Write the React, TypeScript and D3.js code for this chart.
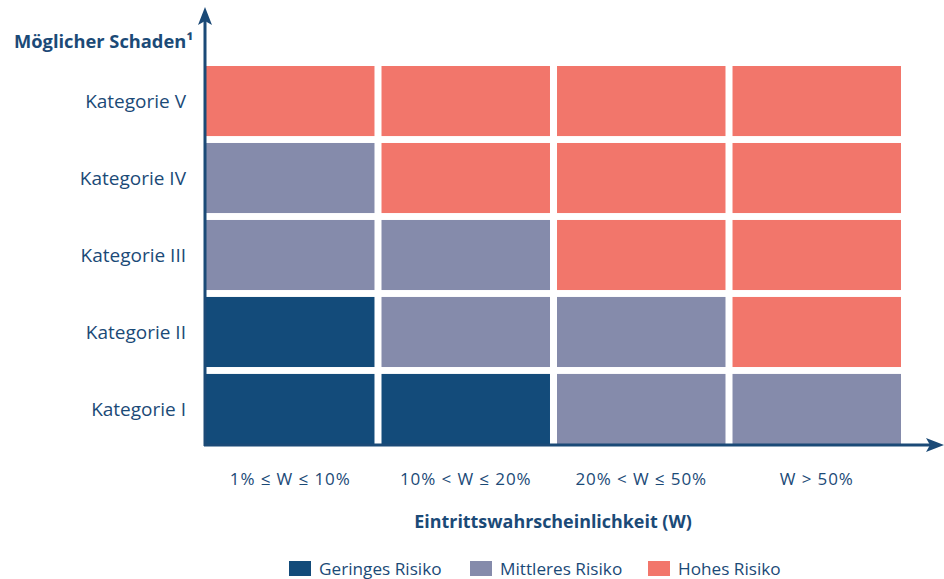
import React, { useEffect, useRef } from "react";
import * as d3 from "d3";

// Kategorien von oben nach unten
const categories = ["Kategorie V", "Kategorie IV", "Kategorie III", "Kategorie II", "Kategorie I"];
const probabilities = ["1% ≤ W ≤ 10%", "10% < W ≤ 20%", "20% < W ≤ 50%", "W > 50%"];
const riskLevels = ["Geringes Risiko", "Mittleres Risiko", "Hohes Risiko"];
// 0 = gering, 1 = mittel, 2 = hoch; one row per category (same order as above)
const riskMatrix = [
  [2, 2, 2, 2],
  [1, 2, 2, 2],
  [1, 1, 2, 2],
  [0, 1, 1, 2],
  [0, 0, 1, 1],
];

const colors = ["#134b7a", "#858bab", "#f2766b"];
const textColor = "#1b4a77";
const font = "'Open Sans', sans-serif";

const drawChart = (svgEl: SVGSVGElement) => {
  const width = 944,
    height = 579;
  const svg = d3.select(svgEl);
  svg.selectAll("*").remove();
  svg.attr("width", width).attr("height", height);

  const x = d3.scaleBand().domain(probabilities).range([206, 901]).paddingInner(0.04);
  const y = d3.scaleBand().domain(categories).range([66, 444]).paddingInner(0.09);

  const cells = riskMatrix.flatMap((row, ri) =>
    row.map((v, ci) => ({ cat: categories[ri], prob: probabilities[ci], v }))
  );

  svg
    .append("g")
    .selectAll("rect")
    .data(cells)
    .enter()
    .append("rect")
    .attr("x", (d) => x(d.prob)!)
    .attr("y", (d) => y(d.cat)!)
    .attr("width", x.bandwidth())
    .attr("height", y.bandwidth())
    .attr("fill", (d) => colors[d.v]);

  // axes with arrows
  const axis = svg.append("g").attr("stroke", textColor).attr("fill", textColor);
  axis.append("line").attr("x1", 205).attr("x2", 205).attr("y1", 446).attr("y2", 14).attr("stroke-width", 3);
  axis.append("path").attr("d", "M205,7 L212,25 L205,21 L198,25 Z").attr("stroke", "none");
  axis.append("line").attr("x1", 204).attr("x2", 936).attr("y1", 445).attr("y2", 445).attr("stroke-width", 3);
  axis.append("path").attr("d", "M944,445 L926,438 L930,445 L926,452 Z").attr("stroke", "none");

  // y labels
  svg
    .append("g")
    .selectAll("text")
    .data(categories)
    .enter()
    .append("text")
    .attr("x", 186)
    .attr("y", (d) => y(d)! + y.bandwidth() / 2)
    .attr("dy", "0.35em")
    .attr("text-anchor", "end")
    .attr("font-family", font)
    .attr("font-size", 19)
    .attr("fill", textColor)
    .text((d) => d);

  // x labels
  svg
    .append("g")
    .selectAll("text")
    .data(probabilities)
    .enter()
    .append("text")
    .attr("x", (d) => x(d)! + x.bandwidth() / 2)
    .attr("y", 479)
    .attr("dy", "0.35em")
    .attr("text-anchor", "middle")
    .attr("font-family", font)
    .attr("font-size", 17)
    .attr("letter-spacing", 0.9)
    .attr("fill", textColor)
    .text((d) => d);

  svg
    .append("text")
    .attr("x", 14)
    .attr("y", 42)
    .attr("dy", "0.35em")
    .attr("font-family", font)
    .attr("font-weight", "bold")
    .attr("font-size", 18.3)
    .attr("fill", textColor)
    .text("Möglicher Schaden¹");

  svg
    .append("text")
    .attr("x", 553)
    .attr("y", 522)
    .attr("dy", "0.35em")
    .attr("text-anchor", "middle")
    .attr("font-family", font)
    .attr("font-weight", "bold")
    .attr("font-size", 17.9)
    .attr("fill", textColor)
    .text("Eintrittswahrscheinlichkeit (W)");

  // legend
  const legendX = [289, 470, 648];
  const legend = svg
    .append("g")
    .selectAll("g")
    .data(riskLevels)
    .enter()
    .append("g")
    .attr("transform", (d, i) => `translate(${legendX[i]},561)`);
  legend
    .append("rect")
    .attr("width", 22)
    .attr("height", 15)
    .attr("fill", (d, i) => colors[i]);
  legend
    .append("text")
    .attr("x", 30)
    .attr("y", 8)
    .attr("dy", "0.35em")
    .attr("font-family", font)
    .attr("font-size", 17.2)
    .attr("fill", textColor)
    .text((d) => d);
};

const App = () => {
  const svg = useRef<SVGSVGElement>(null);

  useEffect(() => {
    if (svg.current) drawChart(svg.current);
  }, []);

  return (
    <div style={{ position: "absolute", left: 0, top: 0 }}>
      <svg ref={svg} style={{ display: "block" }} />
    </div>
  );
};

export default App;
